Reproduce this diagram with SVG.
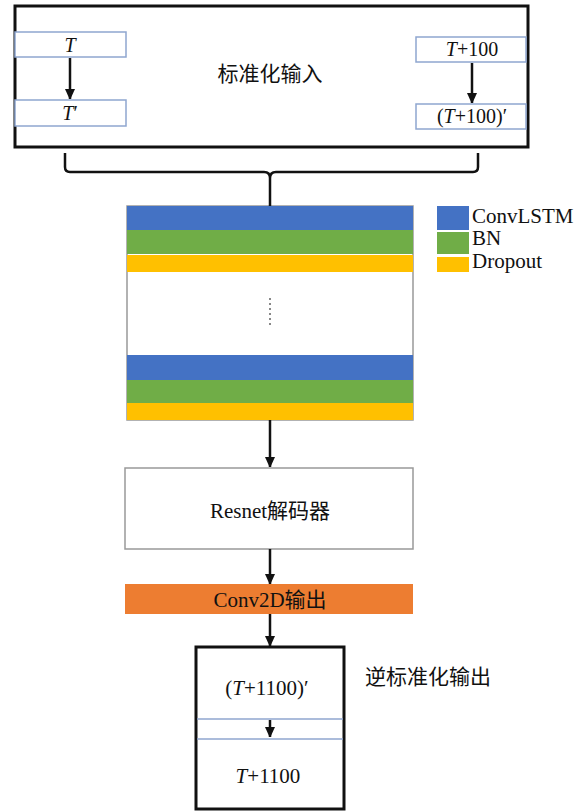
<svg xmlns="http://www.w3.org/2000/svg" width="585" height="812" viewBox="0 0 585 812">
<style>
text{font-family:"Liberation Serif","Noto Sans CJK SC",serif;fill:#111;}
.t{font-size:21px;text-anchor:middle;}
.s{font-size:20px;text-anchor:middle;}
.lg{font-size:21px;}
.sb{fill:#fff;stroke:#8fa6cf;stroke-width:1.5;}
.thick{fill:#fff;stroke:#111;stroke-width:3;}
.ln{stroke:#111;stroke-width:2.5;fill:none;}
</style>
<defs>
<marker id="ah" markerWidth="4" markerHeight="4.4" refX="4" refY="2" orient="auto" markerUnits="strokeWidth">
<path d="M0,0 L4.4,2 L0,4 Z" fill="#111"/>
</marker>
</defs>
<rect width="585" height="812" fill="#fff"/>

<g id="input">
<rect class="thick" x="15" y="6" width="513" height="141"/>
<rect class="sb" x="15" y="32" width="111" height="25"/>
<text class="s" x="70" y="52" font-style="italic">T</text>
<rect class="sb" x="15" y="100" width="111" height="26"/>
<text class="s" x="70" y="120"><tspan font-style="italic">T</tspan>′</text>
<rect class="sb" x="416" y="37" width="110" height="25"/>
<text class="s" x="472" y="56"><tspan font-style="italic">T</tspan>+100</text>
<rect class="sb" x="416" y="104" width="110" height="25"/>
<text class="s" x="472" y="123">(<tspan font-style="italic">T</tspan>+100)′</text>
<text class="t" x="270" y="81">标准化输入</text>
</g>

<g id="layers">
<rect x="127" y="206" width="286" height="214" fill="#fff" stroke="#999" stroke-width="1.5"/>
<rect x="127" y="206" width="286" height="24" fill="#4472c4"/>
<rect x="127" y="230" width="286" height="24" fill="#70ad47"/>
<rect x="127" y="255" width="286" height="17" fill="#ffc000"/>
<rect x="127" y="355" width="286" height="25" fill="#4472c4"/>
<rect x="127" y="380" width="286" height="23" fill="#70ad47"/>
<rect x="127" y="403" width="286" height="17" fill="#ffc000"/>
<g fill="#888">
<rect x="269" y="298" width="2" height="2"/>
<rect x="269" y="303" width="2" height="2"/>
<rect x="269" y="308" width="2" height="2"/>
<rect x="269" y="313" width="2" height="2"/>
<rect x="269" y="318" width="2" height="2"/>
<rect x="269" y="323" width="2" height="2"/>
</g>
</g>

<g id="legend">
<rect x="437" y="206" width="32" height="24" fill="#4472c4"/>
<rect x="437" y="232" width="32" height="22" fill="#70ad47"/>
<rect x="437" y="257" width="32" height="15" fill="#ffc000"/>
<text class="lg" x="472" y="223">ConvLSTM</text>
<text class="lg" x="472" y="245">BN</text>
<text class="lg" x="472" y="268">Dropout</text>
</g>

<g id="resnet">
<rect x="125" y="468" width="288" height="81" fill="#fff" stroke="#999" stroke-width="1.5"/>
<text class="t" x="270" y="518">Resnet解码器</text>
</g>

<g id="conv2d">
<rect x="125" y="584" width="288" height="30" fill="#ed7d31"/>
<text class="t" x="270" y="607">Conv2D输出</text>
</g>

<g id="output">
<rect class="thick" x="196" y="647" width="148" height="162"/>
<line x1="197" y1="719" x2="343" y2="719" stroke="#8fa6cf" stroke-width="1.5"/>
<line x1="197" y1="739" x2="343" y2="739" stroke="#8fa6cf" stroke-width="1.5"/>
<text class="t" x="267" y="695">(<tspan font-style="italic">T</tspan>+1100)′</text>
<text class="t" x="268" y="783"><tspan font-style="italic">T</tspan>+1100</text>
<text class="t" x="365" y="684" style="text-anchor:start">逆标准化输出</text>
</g>

<g id="connectors">
<line class="ln" x1="70" y1="58" x2="70" y2="99" marker-end="url(#ah)"/>
<line class="ln" x1="472" y1="63" x2="472" y2="103" marker-end="url(#ah)"/>
<path class="ln" d="M65,153 V167 Q65,172 70,172 H264 Q270,172 270,178 V206 M270,178 Q270,172 276,172 H473 Q478,172 478,167 V153"/>
<line class="ln" x1="270" y1="420" x2="270" y2="467" marker-end="url(#ah)"/>
<line class="ln" x1="270" y1="549" x2="270" y2="584" marker-end="url(#ah)"/>
<line class="ln" x1="270" y1="614" x2="270" y2="646" marker-end="url(#ah)"/>
<line class="ln" x1="270" y1="720" x2="270" y2="737" marker-end="url(#ah)"/>
</g>
</svg>
